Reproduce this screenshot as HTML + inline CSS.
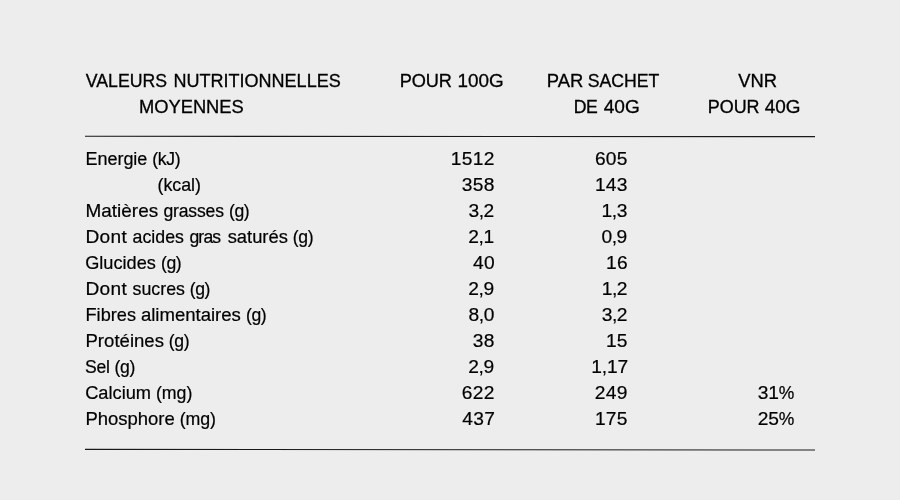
<!DOCTYPE html>
<html lang="fr"><head><meta charset="utf-8"><title>Valeurs nutritionnelles moyennes</title>
<style>
html,body{margin:0;padding:0}
body{width:900px;height:500px;background:#ededed;overflow:hidden;position:relative;font-family:"Liberation Sans",sans-serif;color:#000}
.r{position:absolute;left:0;width:900px;height:26px;line-height:26px;font-size:18.3px;white-space:pre;-webkit-text-stroke:0.2px #000}
.r.h{-webkit-text-stroke:0.3px #000}
.r span{position:absolute;top:0;display:block;height:26px;line-height:26px;white-space:pre}
.n{font-size:19.2px}
.n i{font-style:normal;font-size:17.5px;letter-spacing:0}
svg{position:absolute;left:0;top:0}
</style></head><body>
<svg width="900" height="500" viewBox="0 0 900 500">
<line x1="85" y1="136.3" x2="815" y2="136.65" stroke="#1a1a1a" stroke-width="1.1"/>
<line x1="85" y1="449.38" x2="815" y2="449.97" stroke="#1a1a1a" stroke-width="1.1"/>
</svg>
<div class="r h" style="top:68px"><span style="left:85.83px;font-size:17.71px">VALEURS </span><span style="left:173.42px;font-size:18.04px">NUTRITIONNELLES </span><span style="left:399.63px;font-size:18.18px;letter-spacing:-0.08px">POUR </span><span style="left:457.5px;font-size:18.89px;letter-spacing:0.01px">100G </span><span style="left:546.64px;font-size:18.43px;letter-spacing:0.09px">PAR </span><span style="left:587.87px;font-size:17.7px;letter-spacing:-0.05px">SACHET </span><span style="left:738.23px;font-size:18.39px;letter-spacing:-0.04px">VNR </span></div>
<div class="r h" style="top:94px"><span style="left:138.91px;font-size:18.34px">MOYENNES </span><span style="left:573.63px;font-size:17.6px;letter-spacing:-0.21px">DE </span><span style="left:603.66px;font-size:19.1px;letter-spacing:0.09px">40G </span><span style="left:707.72px;font-size:17.96px;letter-spacing:0.01px">POUR </span><span style="left:764.78px;font-size:18.95px;letter-spacing:-0.04px">40G </span></div>
<div class="r" style="top:146px"><span style="left:85.44px;font-size:18.0px;letter-spacing:-0.02px">Energie </span><span style="left:152.16px;font-size:17.6px;letter-spacing:-0.26px">(kJ) </span><span class="n" style="left:450.75px;letter-spacing:0.3px">1512 </span><span class="n" style="left:594.88px;letter-spacing:0.3px">605 </span></div>
<div class="r" style="top:172px"><span style="left:157.58px;font-size:17.8px;letter-spacing:-0.02px">(kcal) </span><span class="n" style="left:461.71px;letter-spacing:0.3px">358 </span><span class="n" style="left:594.9px;letter-spacing:0.3px">143 </span></div>
<div class="r" style="top:198px"><span style="left:85.5px;font-size:18.97px;letter-spacing:0.01px">Matières </span><span style="left:163.41px;font-size:17.6px;letter-spacing:-0.18px">grasses </span><span style="left:228.91px;font-size:17.6px;letter-spacing:-0.38px">(g) </span><span class="n" style="left:468.45px;letter-spacing:-0.42px">3,2 </span><span class="n" style="left:601.56px;letter-spacing:-0.42px">1,3 </span></div>
<div class="r" style="top:224px"><span style="left:85.42px;font-size:19.1px;letter-spacing:0.38px">Dont </span><span style="left:132.62px;font-size:17.75px;letter-spacing:-0.01px">acides </span><span style="left:189.42px;font-size:17.6px;letter-spacing:-0.82px">gras </span><span style="left:227.69px;font-size:18.39px;letter-spacing:-0.02px">saturés </span><span style="left:292.81px;font-size:17.6px;letter-spacing:-0.38px">(g) </span><span class="n" style="left:468.22px;letter-spacing:-0.42px">2,1 </span><span class="n" style="left:601.43px;letter-spacing:-0.42px">0,9 </span></div>
<div class="r" style="top:250px"><span style="left:85.13px;font-size:18.16px;letter-spacing:0.01px">Glucides </span><span style="left:160.91px;font-size:17.6px;letter-spacing:-0.38px">(g) </span><span class="n" style="left:473.0px;letter-spacing:0.3px">40 </span><span class="n" style="left:605.91px;letter-spacing:0.3px">16 </span></div>
<div class="r" style="top:276px"><span style="left:85.42px;font-size:19.1px;letter-spacing:0.38px">Dont </span><span style="left:132.62px;font-size:17.75px">sucres </span><span style="left:189.71px;font-size:17.6px;letter-spacing:-0.38px">(g) </span><span class="n" style="left:468.23px;letter-spacing:-0.42px">2,9 </span><span class="n" style="left:601.65px;letter-spacing:-0.42px">1,2 </span></div>
<div class="r" style="top:302px"><span style="left:85.47px;font-size:18.16px;letter-spacing:0.02px">Fibres </span><span style="left:140.94px;font-size:18.59px;letter-spacing:-0.02px">alimentaires </span><span style="left:245.96px;font-size:17.6px;letter-spacing:-0.37px">(g) </span><span class="n" style="left:468.58px;letter-spacing:-0.42px">8,0 </span><span class="n" style="left:601.65px;letter-spacing:-0.42px">3,2 </span></div>
<div class="r" style="top:328px"><span style="left:85.48px;font-size:18.56px;letter-spacing:0.02px">Protéines </span><span style="left:168.86px;font-size:17.6px;letter-spacing:-0.38px">(g) </span><span class="n" style="left:472.71px;letter-spacing:0.3px">38 </span><span class="n" style="left:605.88px;letter-spacing:0.3px">15 </span></div>
<div class="r" style="top:354px"><span style="left:85.11px;font-size:17.6px;letter-spacing:-0.31px">Sel </span><span style="left:114.62px;font-size:17.6px;letter-spacing:-0.37px">(g) </span><span class="n" style="left:468.23px;letter-spacing:-0.42px">2,9 </span><span class="n" style="left:591.25px;letter-spacing:-0.1px">1,17 </span></div>
<div class="r" style="top:380px"><span style="left:85.21px;font-size:18.24px">Calcium </span><span style="left:155.93px;font-size:17.78px;letter-spacing:-0.04px">(mg) </span><span class="n" style="left:461.75px;letter-spacing:0.3px">622 </span><span class="n" style="left:594.73px;letter-spacing:0.3px">249 </span><span class="n" style="left:757.81px;letter-spacing:-0.15px">31<i>%</i> </span></div>
<div class="r" style="top:406px"><span style="left:85.38px;font-size:18.5px;letter-spacing:-0.02px">Phosphore </span><span style="left:179.63px;font-size:17.78px;letter-spacing:-0.04px">(mg) </span><span class="n" style="left:462.35px;letter-spacing:0.3px">437 </span><span class="n" style="left:594.88px;letter-spacing:0.3px">175 </span><span class="n" style="left:757.81px;letter-spacing:-0.15px">25<i>%</i> </span></div>
</body></html>
